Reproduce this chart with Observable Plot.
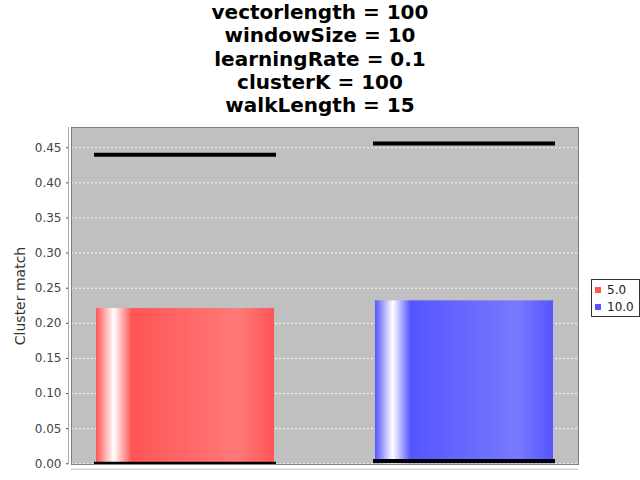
<!DOCTYPE html>
<html>
<head>
<meta charset="utf-8">
<script src="https://cdn.jsdelivr.net/npm/d3@7"></script>
<script src="https://cdn.jsdelivr.net/npm/@observablehq/plot@0.6"></script>
<style>
  body { margin: 0; background: #fff; }
  #wrap { position: relative; width: 640px; height: 480px; background: #fff; font-family: "DejaVu Sans", sans-serif; overflow: hidden; }
  #title { box-sizing: border-box; height: 120px; padding-top: 1px; font-weight: bold; font-size: 20px; line-height: 23.3px; text-align: center; color: #000; }
  #legend { position: absolute; left: 591px; top: 279px; border: 1px solid #333; background: #fff; padding: 1px 5px 1px 3px; font-size: 12px; color: #222; }
  #legend .item { display: flex; align-items: center; height: 17px; white-space: nowrap; }
  #legend .sw { width: 6px; height: 6px; margin-right: 6px; }
</style>
</head>
<body>
<div id="wrap">
  <div id="title"></div>
  <div id="chart"></div>
  <div id="legend"></div>
</div>
<script>
const titleLines = ["vectorlength = 100", "windowSize = 10", "learningRate = 0.1", "clusterK = 100", "walkLength = 15"];
const series = ["5.0", "10.0"];
const means = [0.221, 0.232];
const maxs = [0.440, 0.456];
const mins = [0.000, 0.004];
const yTicks = [0, 0.05, 0.10, 0.15, 0.20, 0.25, 0.30, 0.35, 0.40, 0.45];
const yLabel = "Cluster match";
const baseColors = ["#ff5555", "#5555ff"];
const lightColors = ["#ff7979", "#7979ff"];

document.getElementById("title").innerHTML = titleLines.map(t => `<div>${t}</div>`).join("");

const data = series.map((s, i) => ({series: s, mean: means[i], max: maxs[i], min: mins[i], grad: `url(#grad${i})`}));

const chart = Plot.plot({
  width: 640,
  height: 360,
  marginTop: 7,
  marginBottom: 16,
  marginLeft: 71,
  marginRight: 62,
  style: {fontFamily: "DejaVu Sans", background: "transparent", overflow: "visible"},
  x: {domain: series, paddingInner: 0.362, paddingOuter: 0.0896, axis: null},
  y: {domain: [-0.001, 0.4788], axis: null},
  color: {type: "identity"},
  marks: [
    Plot.frame({fill: "#c0c0c0", stroke: "none"}),
    Plot.ruleY(yTicks, {stroke: "#ffffff", strokeDasharray: "2,2", strokeOpacity: 0.9}),
    Plot.barY(data, {x: "series", y: "mean", fill: "grad", clip: true}),
    Plot.tickY(data, {x: "series", y: "max", stroke: "black", strokeWidth: 4, strokeLinecap: "square", clip: true}),
    Plot.tickY(data, {x: "series", y: "min", stroke: "black", strokeWidth: 4, strokeLinecap: "square", clip: true}),
    Plot.frame({stroke: "#808080"}),
    Plot.ruleX({length: 1}, {x: null, stroke: "#aaaaaa", dx: -256.5}),
    Plot.ruleY([0], {stroke: "#bbbbbb", dy: 5.4}),
    Plot.axisY(yTicks, {tickFormat: d3.format(".2f"), tickSize: 2, tickPadding: 5, dx: -3, fontSize: 12, color: "#444", label: null}),
    Plot.text([yLabel], {text: d => d, frameAnchor: "left", dx: -51, rotate: -90, textAnchor: "middle", fontSize: 14, fill: "#333"})
  ]
});

const defs = d3.select(chart).insert("defs", ":first-child");
series.forEach((s, i) => {
  const g = defs.append("linearGradient").attr("id", `grad${i}`).attr("x1", "0").attr("x2", "1").attr("y1", "0").attr("y2", "0");
  [[0, baseColors[i]], [0.1, "#ffffff"], [0.2, baseColors[i]], [0.8, lightColors[i]], [1, baseColors[i]]].forEach(([o, c]) => {
    g.append("stop").attr("offset", o).attr("stop-color", c);
  });
});

document.getElementById("chart").appendChild(chart);

document.getElementById("legend").innerHTML = series.map((s, i) =>
  `<div class="item"><div class="sw" style="background:${baseColors[i]}"></div><span>${s}</span></div>`).join("");
</script>
</body>
</html>
